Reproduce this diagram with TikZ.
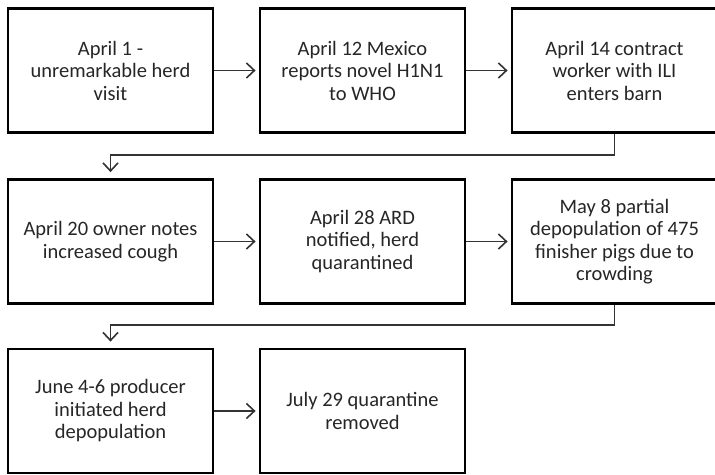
\documentclass[tikz,border=0pt]{standalone}
\usepackage{fontspec}
\setmainfont{Carlito}
\usepackage{tikz}
\usetikzlibrary{arrows.meta}
\tikzstyle{event} = [rectangle, minimum width=205pt, minimum height=124pt, text centered, align=center, draw=black, line width=2.8pt, text=black!85, font=\fontsize{20.5pt}{22.5pt}\selectfont]
\tikzstyle{arrow} = [line width=1.6pt, draw=black!80, ->, >={Straight Barb[length=8pt,width=15pt,line width=1.6pt]}, shorten >=3pt]

\begin{document}
\begin{tikzpicture}[node distance=252pt]
	\useasboundingbox (0,0) rectangle (715pt,-474pt);
	
	\node (p1) [event] at (110.5pt,-70.5pt) {April 1 -\\unremarkable herd\\visit};
	\node (p2) [event, right of = p1] {April 12 Mexico\\reports novel H1N1\\to WHO};
	\node (p3) [event, right of = p2] {April 14 contract\\worker with ILI\\enters barn};
	
	\node (p4) [event] at (110.5pt,-241.5pt) {April 20 owner notes\\increased cough};
	\node (p5) [event, right of = p4] {April 28 ARD\\notified, herd\\quarantined};
	\node (p6) [event, right of = p5] {May 8 partial\\depopulation of 475\\finisher pigs due to\\crowding};
	
	\node (p7) [event] at (110.5pt,-411pt) {June 4-6 producer\\initiated herd\\depopulation};
	\node (p8) [event, right of = p7] {July 29 quarantine\\removed};
	
	% turn points between the rows
	\coordinate (c1) at (360pt,-155pt);
	\coordinate (c2) at (360pt,-325pt);
	
	\draw [arrow] (p1) -- (p2);
	\draw [arrow] (p2) -- (p3);
	\draw [arrow, shorten >=6pt] (p3) |- (c1) -| (p4);
	
	\draw [arrow] (p4) -- (p5);
	\draw [arrow] (p5) -- (p6);
	\draw [arrow, shorten >=6pt] (p6) |- (c2) -| (p7);
	
	\draw [arrow] (p7) -- (p8);
	
\end{tikzpicture}
\end{document}
